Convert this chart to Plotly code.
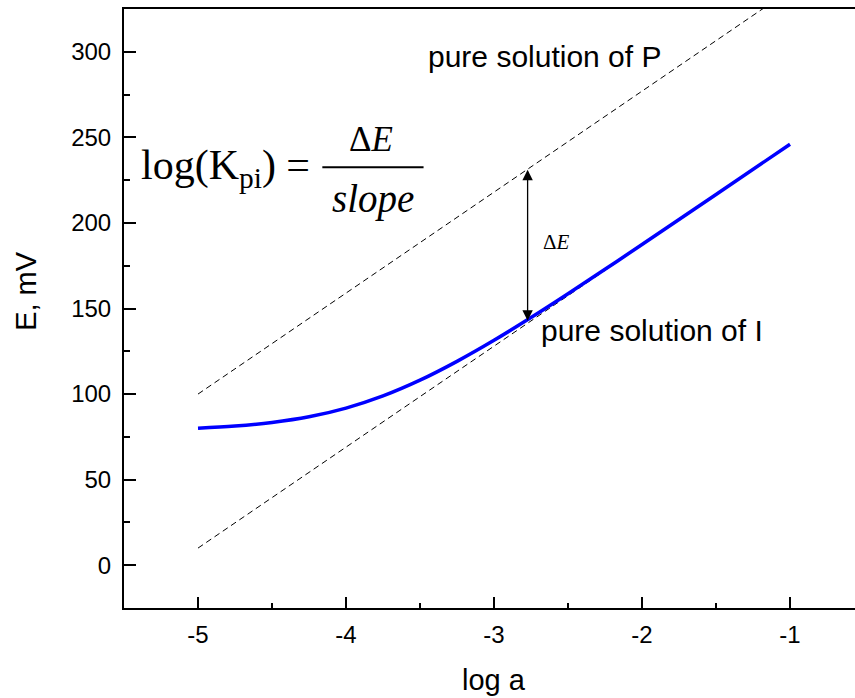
import plotly.graph_objects as go

# ---- data ----
log_a = [-5.0, -4.75, -4.5, -4.25, -4.0, -3.75, -3.5, -3.25, -3.0, -2.75, -2.5, -2.25, -2.0, -1.5, -1.0]
E_mixed = [80.0, 81.3, 83.4, 86.7, 91.8, 98.9, 108.1, 119.1, 131.4, 144.7, 158.6, 172.9, 187.4, 216.6, 246.0]

line_x = [-5.0, -1.0]
E_pure_P = [100.0, 336.0]
E_pure_I = [10.0, 246.0]

arrow_x = -2.773
arrow_E = [142.0, 231.0]

x_ticks = [-5, -4, -3, -2, -1]
x_tick_text = ["-5", "-4", "-3", "-2", "-1"]
y_ticks = [0, 50, 100, 150, 200, 250, 300]
y_tick_text = ["0", "50", "100", "150", "200", "250", "300"]

SANS = "Liberation Sans, Arial, sans-serif"
SERIF = "Liberation Serif, Times New Roman, serif"

fig = go.Figure()
fig.add_trace(go.Scatter(x=line_x, y=E_pure_P, mode="lines",
                         line=dict(color="black", width=1, dash="6px,4px"), showlegend=False))
fig.add_trace(go.Scatter(x=line_x, y=E_pure_I, mode="lines",
                         line=dict(color="black", width=1, dash="6px,4px"), showlegend=False))
fig.add_trace(go.Scatter(x=log_a, y=E_mixed, mode="lines", line_shape="spline",
                         line=dict(color="#0000ff", width=3.5), showlegend=False))

# double-headed arrow for delta E
fig.add_annotation(x=arrow_x, y=arrow_E[1], ax=arrow_x, ay=arrow_E[0], axref="x", ayref="y",
                   xref="x", yref="y", text="", showarrow=True, arrowside="end+start",
                   arrowhead=2, startarrowhead=2, arrowsize=1.6, startarrowsize=1.6,
                   arrowwidth=1.3, arrowcolor="black", standoff=0, startstandoff=0)

fig.add_annotation(x=-2.58, y=189, text="Δ<i>E</i>", showarrow=False,
                   font=dict(family=SERIF, size=21, color="black"))
fig.add_annotation(x=-3.457, y=297.3, text="pure solution of P", showarrow=False, xanchor="left",
                   font=dict(family=SANS, size=30, color="black"))
fig.add_annotation(x=-2.694, y=137.4, text="pure solution of I", showarrow=False, xanchor="left",
                   font=dict(family=SANS, size=30, color="black"))

# formula
fig.add_annotation(x=-5.397, y=232, text="log(K<sub>pi</sub>) =", showarrow=False, xanchor="left",
                   font=dict(family=SERIF, size=42, color="black"))
fig.add_annotation(x=-3.83, y=248.5, text="Δ<i>E</i>", showarrow=False,
                   font=dict(family=SERIF, size=35, color="black"))
fig.add_annotation(x=-3.82, y=214, text="<i>slope</i>", showarrow=False,
                   font=dict(family=SERIF, size=39, color="black"))
fig.add_shape(type="line", x0=-4.16, x1=-3.476, y0=232.5, y1=232.5, xref="x", yref="y",
              line=dict(color="black", width=2))

# axis titles as annotations for exact placement
fig.add_annotation(x=-3.0, y=-0.12, xref="x", yref="paper", text="log a", showarrow=False,
                   xanchor="center", yanchor="middle", font=dict(family=SANS, size=29, color="black"))
fig.add_annotation(x=-0.135, y=0.53, xref="paper", yref="paper", text="E, mV", showarrow=False,
                   xanchor="center", yanchor="middle",
                   textangle=-90, font=dict(family=SANS, size=29, color="black"))

fig.update_xaxes(range=[-5.5, -0.561], tickvals=x_ticks, ticktext=x_tick_text, ticks="inside",
                 ticklen=11, tickwidth=2,
                 showline=True, linewidth=2, linecolor="black", mirror=True, showgrid=False,
                 zeroline=False, tickfont=dict(family=SANS, size=24, color="black"),
                 minor=dict(dtick=0.5, tick0=-5, ticks="inside", ticklen=5, tickwidth=2, tickcolor="black"),
                 tickcolor="black", ticklabelstandoff=4)
fig.update_yaxes(range=[-25, 325], tickvals=y_ticks, ticktext=y_tick_text, ticks="inside",
                 ticklen=12, tickwidth=2,
                 showline=True, linewidth=2, linecolor="black", mirror=False, showgrid=False,
                 zeroline=False, tickfont=dict(family=SANS, size=24, color="black"),
                 minor=dict(dtick=25, tick0=0, ticks="inside", ticklen=6, tickwidth=2, tickcolor="black"),
                 tickcolor="black", ticklabelstandoff=6)

fig.update_layout(width=855, height=698, margin=dict(l=124, r=0, t=9, b=90),
                  plot_bgcolor="white", paper_bgcolor="white")

fig.write_html("out.html")
